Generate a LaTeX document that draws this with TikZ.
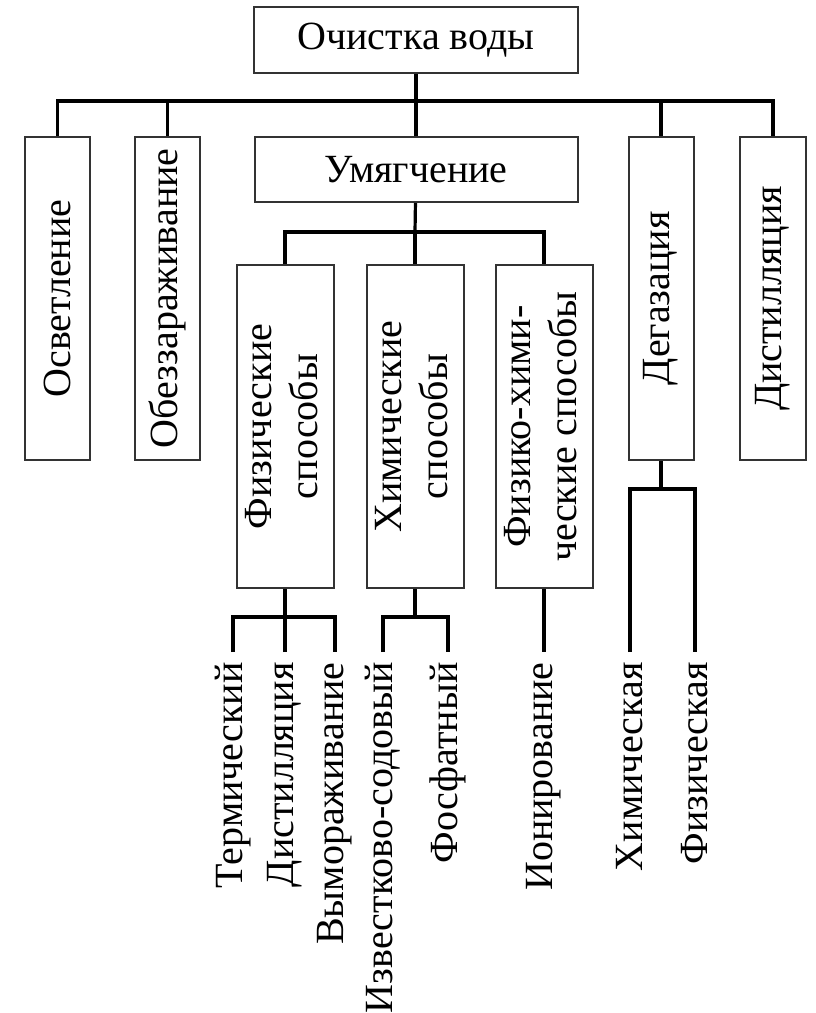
\documentclass[tikz,border=0pt]{standalone}
\usepackage{fontspec}
\setmainfont{Liberation Serif}
\usetikzlibrary{positioning}

\tikzset{
  box/.style={draw=black!80, line width=1pt, inner sep=0pt, font=\fontsize{20}{23}\selectfont},
  leaf/.style={inner xsep=0pt, inner ysep=5pt, anchor=north, font=\fontsize{20}{23}\selectfont},
  link/.style={line width=1.6pt}
}

\begin{document}
\begin{tikzpicture}[x=0.5pt, y=-0.5pt]
    \useasboundingbox (0,0) rectangle (815,1013);

    % top
    \node[box, minimum width=162pt, minimum height=33pt] (clean) at (416,40) {Очистка воды};

    % second row
    \node[box, minimum width=32.5pt, minimum height=161.5pt] (osv) at (57.5,298.5) {\rotatebox{90}{Осветление}};
    \node[box, minimum width=32.5pt, minimum height=161.5pt] (obez) at (167.5,298.5) {\rotatebox{90}{Обеззараживание}};
    \node[box, minimum width=161.5pt, minimum height=32.5pt] (soft) at (416,169.5) {Умягчение};
    \node[box, minimum width=32.5pt, minimum height=161.5pt] (degas) at (661,298.5) {\rotatebox{90}{Дегазация}};
    \node[box, minimum width=33pt, minimum height=161.5pt] (dist) at (773,298.5) {\rotatebox{90}{Дистилляция}};

    % softening methods
    \node[box, minimum width=48.5pt, minimum height=161.5pt] (phys) at (285,426.5) {\rotatebox{90}{\begin{tabular}{@{}c@{}}Физические\\способы\end{tabular}}};
    \node[box, minimum width=48.5pt, minimum height=161.5pt] (chem) at (415,426.5) {\rotatebox{90}{\begin{tabular}{@{}c@{}}Химические\\способы\end{tabular}}};
    \node[box, minimum width=48.5pt, minimum height=161.5pt] (physchem) at (544,426.5) {\rotatebox{90}{\begin{tabular}{@{}c@{}}Физико-хими-\\ческие способы\end{tabular}}};

    % leaves
    \node[leaf] (therm) at (233,652) {\rotatebox{90}{Термический}};
    \node[leaf] (distil) at (285,652) {\rotatebox{90}{Дистилляция}};
    \node[leaf] (freeze) at (335,652) {\rotatebox{90}{Вымораживание}};
    \node[leaf] (lime) at (383,652) {\rotatebox{90}{Известково-содовый}};
    \node[leaf] (phosph) at (448,652) {\rotatebox{90}{Фосфатный}};
    \node[leaf] (ion) at (544,652) {\rotatebox{90}{Ионирование}};
    \node[leaf] (gchem) at (630,652) {\rotatebox{90}{Химическая}};
    \node[leaf] (gphys) at (695,652) {\rotatebox{90}{Физическая}};

    % buses
    \coordinate (b1) at (416,101);
    \coordinate (b2) at (415,232);
    \coordinate (b3) at (285,617);
    \coordinate (b4) at (415,617);
    \coordinate (b5) at (661,489);

    \draw[link] (clean) -- (b1);
    \draw[link] (osv.north) |- (b1) -| (dist.north);
    \foreach \n in {obez, soft, degas}
        \draw[link] (\n.north) -- (\n.north |- b1);

    \draw[link] (soft) -- (b2);
    \draw[link] (phys.north) |- (b2) -| (physchem.north);
    \draw[link] (chem.north) -- (chem.north |- b2);

    \draw[link] (phys) -- (b3);
    \draw[link] (therm.north) |- (b3) -| (freeze.north);
    \draw[link] (distil.north) -- (distil.north |- b3);

    \draw[link] (chem) -- (b4);
    \draw[link] (lime.north) |- (b4) -| (phosph.north);

    \draw[link] (physchem) -- (ion);

    \draw[link] (degas) -- (b5);
    \draw[link] (gchem.north) |- (b5) -| (gphys.north);
\end{tikzpicture}
\end{document}
